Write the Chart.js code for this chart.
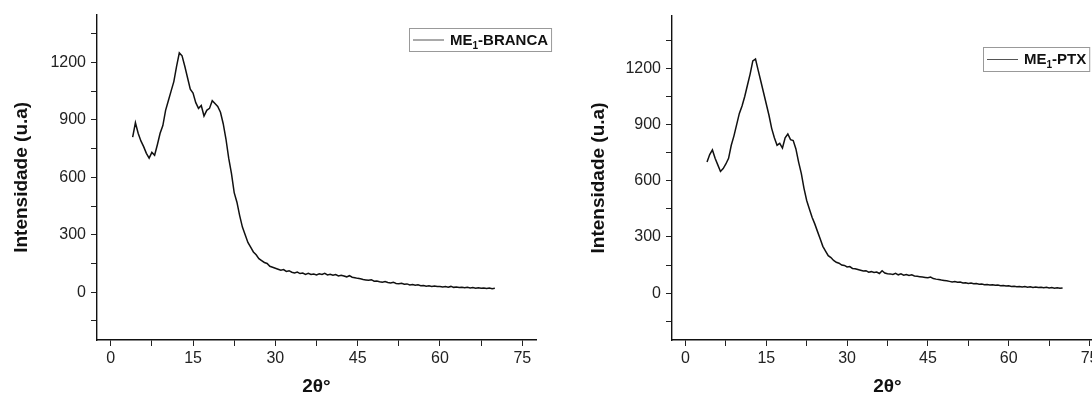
<!DOCTYPE html>
<html>
<head>
  <title>DRX ME1</title>
  <script src="https://cdn.jsdelivr.net/npm/chart.js"></script>
  <style>
    body { margin: 0; background: #fff; overflow: hidden; width: 1092px; height: 394px; position: relative; }
    canvas { position: absolute; top: 0; }
    #chart-branca { left: 0; }
    #chart-ptx { left: 546px; }
  </style>
</head>
<body>
  <canvas id="chart-branca" width="560" height="394"></canvas>
  <canvas id="chart-ptx" width="567" height="394"></canvas>
  <script>
    // 2theta (degrees)
    const twoTheta = [
      4, 4.5, 5, 5.5, 6, 6.5, 7, 7.5, 8, 8.5, 9, 9.5, 10, 10.5, 11, 11.5, 12, 12.5, 13, 13.5,
      14, 14.5, 15, 15.5, 16, 16.5, 17, 17.5, 18, 18.5, 19, 19.5, 20, 20.5, 21, 21.5, 22, 22.5, 23, 23.5,
      24, 24.5, 25, 25.5, 26, 26.5, 27, 27.5, 28, 28.5, 29, 29.5, 30, 30.5, 31, 31.5, 32, 32.5, 33, 33.5,
      34, 34.5, 35, 35.5, 36, 36.5, 37, 37.5, 38, 38.5, 39, 39.5, 40, 40.5, 41, 41.5, 42, 42.5, 43, 43.5,
      44, 44.5, 45, 45.5, 46, 46.5, 47, 47.5, 48, 48.5, 49, 49.5, 50, 50.5, 51, 51.5, 52, 52.5, 53, 53.5,
      54, 54.5, 55, 55.5, 56, 56.5, 57, 57.5, 58, 58.5, 59, 59.5, 60, 60.5, 61, 61.5, 62, 62.5, 63, 63.5,
      64, 64.5, 65, 65.5, 66, 66.5, 67, 67.5, 68, 68.5, 69, 69.5, 70
    ];

    // ME1-BRANCA intensity (u.a)
    const intensBranca = [
      810, 885, 830, 790, 760, 725, 700, 730, 715, 770, 830, 870, 950, 1000, 1050, 1100, 1180, 1250, 1235, 1180,
      1120, 1060, 1040, 990, 960, 975, 920, 950, 960, 1000, 985, 970, 940, 880, 800, 700, 620, 520, 470, 400,
      340, 300, 260, 235, 210, 195, 175, 165, 155, 150, 135, 130, 125, 120, 115, 118, 108, 112, 104, 100,
      105, 97, 100, 93, 98, 92, 95, 90, 96, 92, 98, 90, 93, 88, 92, 85, 88, 84, 80, 86,
      78, 75, 72, 70, 66, 64, 62, 65, 57, 58, 54, 52, 55, 50, 48, 52, 45, 44, 46, 41,
      43, 38, 40, 36, 38, 34, 35, 31, 33, 30, 32, 29, 30, 27, 29, 26, 30, 25, 27, 24,
      26, 23, 25, 22, 24, 21, 23, 20, 22, 19, 21, 18, 20
    ];

    // ME1-PTX intensity (u.a)
    const intensPtx = [
      700, 740, 765, 720, 685, 650, 665, 690, 720, 790, 840, 900, 960, 1000, 1050, 1110, 1170, 1240, 1250, 1190,
      1130, 1070, 1010, 950, 880, 830, 790, 800, 775, 830, 850, 820, 815, 770, 700, 640, 560, 495, 450, 405,
      370, 330, 290, 250, 225, 200, 190, 175, 165, 160, 150, 148, 140, 142, 132, 130, 126, 122, 118, 120,
      112, 115, 110, 113, 105, 120, 108, 104, 103, 100, 106, 98, 103, 96, 100, 95, 98, 92, 90, 88,
      86, 84, 82, 86, 78, 75, 73, 70, 68, 66, 63, 60, 62, 58, 60, 55, 56, 52, 54, 50,
      51, 48, 49, 45, 46, 44, 45, 42, 43, 40, 41, 38, 39, 36, 37, 34, 36, 33, 35, 32,
      34, 31, 33, 30, 32, 29, 31, 28, 30, 27, 29, 26, 28
    ];

    const FONT = "'Liberation Sans', Arial, sans-serif";

    // legend box with a subscript "1"
    const subLegend = {
      id: 'subLegend',
      afterDraw(chart, args, opts) {
        const ctx = chart.ctx;
        ctx.save();
        ctx.font = 'bold 15px ' + FONT;
        const wMain = ctx.measureText(opts.pre).width;
        const wPost = ctx.measureText(opts.post).width;
        ctx.font = 'bold 10px ' + FONT;
        const wSub = ctx.measureText('1').width;
        const textX = opts.x + 41;
        const w = 41 + wMain + wSub + wPost + 3;
        ctx.strokeStyle = '#999';
        ctx.lineWidth = 1;
        ctx.strokeRect(opts.x + 0.5, opts.y + 0.5, w, opts.h);
        ctx.strokeStyle = '#555';
        ctx.beginPath();
        ctx.moveTo(opts.x + 4, opts.y + opts.h / 2 + 0.5);
        ctx.lineTo(opts.x + 35, opts.y + opts.h / 2 + 0.5);
        ctx.stroke();
        ctx.fillStyle = '#111';
        ctx.textBaseline = 'alphabetic';
        const base = opts.y + opts.h / 2 + 5;
        ctx.font = 'bold 15px ' + FONT;
        ctx.fillText(opts.pre, textX, base);
        ctx.font = 'bold 10px ' + FONT;
        ctx.fillText('1', textX + wMain, base + 4);
        ctx.font = 'bold 15px ' + FONT;
        ctx.fillText(opts.post, textX + wMain + wSub, base);
        ctx.restore();
      }
    };

    function makeChart(id, values, cfg) {
      const points = twoTheta.map((t, i) => ({ x: t, y: values[i] }));
      return new Chart(document.getElementById(id), {
        type: 'line',
        data: {
          datasets: [{
            data: points,
            borderColor: '#111',
            borderWidth: 1.5,
            pointRadius: 0,
            tension: 0
          }]
        },
        options: {
          responsive: false,
          animation: false,
          devicePixelRatio: 1,
          layout: { padding: { left: 0, top: cfg.top, right: cfg.right, bottom: 0 } },
          plugins: {
            legend: { display: false },
            tooltip: { enabled: false },
            subLegend: cfg.legend
          },
          scales: {
            x: {
              type: 'linear',
              min: -2.5,
              max: 77.5,
              afterFit: s => { s.height = 54; },
              border: { display: true, color: '#111', width: 1.4 },
              grid: { drawOnChartArea: false, drawTicks: true, tickLength: 6, color: '#222' },
              ticks: {
                stepSize: 7.5,
                includeBounds: false,
                autoSkip: false,
                maxRotation: 0,
                padding: 3,
                color: '#222',
                font: { family: FONT, size: 16 },
                callback: v => (v % 15 === 0 ? v : '')
              },
              title: {
                display: true,
                text: '2θ°',
                color: '#111',
                padding: { top: 0, bottom: 0 },
                font: { family: FONT, size: 19, weight: 'bold', lineHeight: 0.8 }
              }
            },
            y: {
              type: 'linear',
              min: -250,
              max: cfg.yMax,
              afterFit: s => { s.width = cfg.axisLeft; },
              border: { display: true, color: '#111', width: 1.4 },
              grid: { drawOnChartArea: false, drawTicks: true, tickLength: 6, color: '#222' },
              ticks: {
                stepSize: 150,
                includeBounds: false,
                autoSkip: false,
                padding: 5,
                color: '#222',
                font: { family: FONT, size: 16 },
                callback: v => (v % 300 === 0 ? v : '')
              },
              title: {
                display: true,
                text: 'Intensidade (u.a)',
                color: '#111',
                padding: { top: cfg.titlePad, bottom: 0 },
                font: { family: FONT, size: 19, weight: 'bold', lineHeight: 1.2 }
              }
            }
          }
        },
        plugins: [subLegend]
      });
    }

    makeChart('chart-branca', intensBranca, {
      top: 14, right: 24, yMax: 1450, axisLeft: 97, titlePad: 10,
      legend: { x: 409, y: 28, h: 23, pre: 'ME', post: '-BRANCA' }
    });

    makeChart('chart-ptx', intensPtx, {
      top: 16, right: 10, yMax: 1480, axisLeft: 126, titlePad: 41,
      legend: { x: 437, y: 47, h: 24, pre: 'ME', post: '-PTX' }
    });
  </script>
</body>
</html>
